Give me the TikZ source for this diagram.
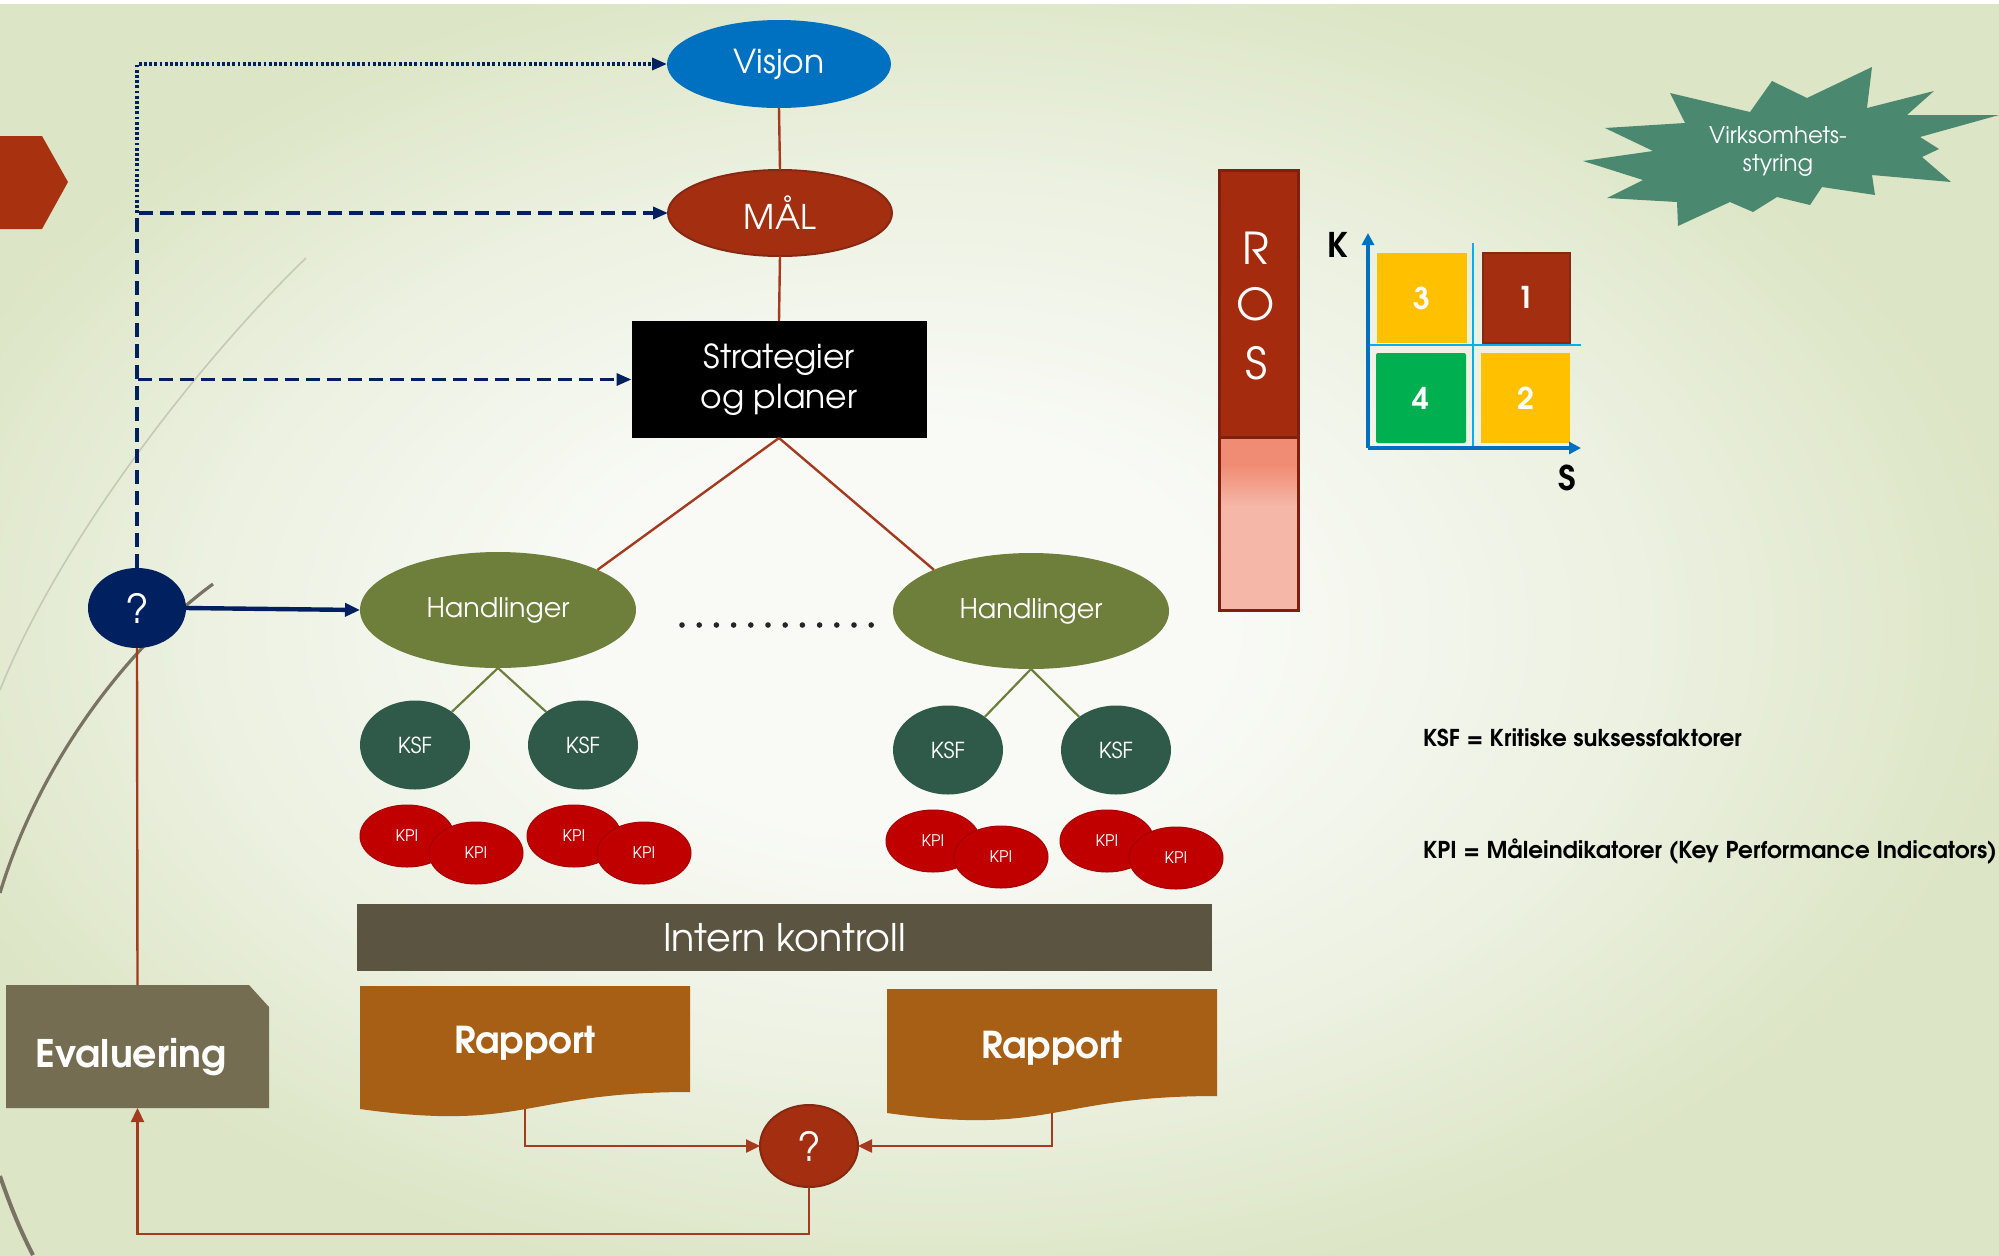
\documentclass[tikz,border=0pt]{standalone}
\usepackage{fontspec}
\setmainfont{TeX Gyre Adventor}
\usetikzlibrary{shapes.geometric,arrows.meta}
\definecolor{bgin}{HTML}{F9FAF6}
\definecolor{bgmid}{HTML}{ECF1E1}
\definecolor{bgout}{HTML}{DCE5C5}
\definecolor{visblue}{HTML}{0070C0}
\definecolor{maroon}{HTML}{A32F10}
\definecolor{maroonD}{HTML}{872812}
\definecolor{hand}{HTML}{6E7F3C}
\definecolor{ksf}{HTML}{2F5A49}
\definecolor{kpi}{HTML}{C00000}
\definecolor{kpiD}{HTML}{A80000}
\definecolor{ikc}{HTML}{5A5441}
\definecolor{rap}{HTML}{A65F15}
\definecolor{evalc}{HTML}{746D51}
\definecolor{navy}{HTML}{002060}
\definecolor{rosred}{HTML}{A52B0E}
\definecolor{rosD}{HTML}{7E2010}
\definecolor{salmon}{HTML}{F08C74}
\definecolor{pinkL}{HTML}{F4B7A8}
\definecolor{burst}{HTML}{4B8870}
\definecolor{yel}{HTML}{FFC000}
\definecolor{grn}{HTML}{00B050}
\definecolor{axisc}{HTML}{0070C0}
\definecolor{crossc}{HTML}{00B0F0}
\definecolor{connc}{HTML}{A43A1E}
\definecolor{chev}{HTML}{A8320F}
\definecolor{decothick}{HTML}{7A7262}
\definecolor{decothin}{HTML}{C5C9B5}
\pgfdeclareradialshading{bgshade}{\pgfpoint{-3bp}{0bp}}{color(0bp)=(bgin);color(8bp)=(bgin);color(18bp)=(bgmid);color(27bp)=(bgout);color(50bp)=(bgout)}
\pgfdeclareverticalshading{rosshade}{100bp}{color(0bp)=(pinkL);color(55bp)=(pinkL);color(67bp)=(salmon);color(100bp)=(salmon)}
\begin{document}
\begin{tikzpicture}[x=0.5pt,y=-0.5pt,
  every node/.style={inner sep=0pt,outer sep=0pt,text=white},
  conn/.style={draw=connc,line width=1.2pt},
  redarrow/.style={conn,-{Triangle[length=7pt,width=6.5pt]}},
  olive/.style={draw=hand,line width=1.1pt},
  navyarr/.style={draw=navy,line width=2.2pt,-{Triangle[length=7.5pt,width=6.5pt]}},
  navydash/.style={draw=navy,line width=1.7pt,dash pattern=on 7pt off 3.5pt,-{Triangle[length=7.5pt,width=6pt]}},
  navydot/.style={draw=navy,line width=1.7pt,dash pattern=on 1.4pt off 1.2pt,-{Triangle[length=7.5pt,width=6pt]}},
  axisline/.style={draw=axisc,line width=1.6pt,-{Triangle[length=6pt,width=6pt]}},
  crossline/.style={draw=crossc,line width=1.1pt},
  oval/.style={ellipse},
  kpinode/.style={ellipse,fill=kpi,draw=kpiD,line width=0.5pt,minimum width=47pt,minimum height=31pt,font=\fontsize{8}{9}\selectfont},
  ksfnode/.style={ellipse,fill=ksf,minimum width=55pt,minimum height=44.5pt,font=\fontsize{11}{13}\selectfont},
  handnode/.style={ellipse,fill=hand,minimum width=138pt,minimum height=58pt,font=\fontsize{13.5}{16}\selectfont},
  sqnode/.style={minimum width=45pt,minimum height=45pt,font=\bfseries\fontsize{15}{17}\selectfont},
  rostxt/.style={font=\fontsize{22}{24}\selectfont},
  raptxt/.style={font=\bfseries\fontsize{18.5}{20}\selectfont},
  qtxt/.style={font=\fontsize{20}{22}\selectfont},
  legend/.style={anchor=west,text=black,font=\bfseries\fontsize{11.6}{13}\selectfont}
]
\useasboundingbox (0,0) rectangle (1999,1255);
% background
\shade[shading=bgshade] (0,0) rectangle (1999,1255);
\fill[white] (0,0) rectangle (1999,4);
% decorative theme curves
\draw[decothin,line width=0.8pt] (306,258) .. controls (200,360) and (60,540) .. (0,690);
\draw[decothick,line width=1.6pt] (213,584) .. controls (130,645) and (40,760) .. (0,893);
\draw[decothick,line width=2pt] (0,1176) .. controls (10,1205) and (20,1230) .. (33,1255);
\fill[chev] (0,136) -- (42,136) -- (68,182) -- (42,229) -- (0,229) -- cycle;

% main column
\node[oval,fill=visblue,minimum width=112pt,minimum height=44pt,font=\fontsize{16.5}{19}\selectfont] (visjon) at (779,64) {Visjon};
\node[oval,fill=maroon,draw=maroonD,line width=1pt,minimum width=112pt,minimum height=43pt,font=\fontsize{17}{19}\selectfont] (mal) at (780,213) {MÅL};
\node[fill=black,minimum width=147.5pt,minimum height=58.5pt,align=center,font=\fontsize{16.5}{20}\selectfont] (strat) at (779,379.5) {Strategier\\og planer};
\node[handnode] (h1) at (498,610) {Handlinger};
\node[handnode] (h2) at (1031,611) {Handlinger};
\foreach \i in {0,...,11} \fill[black!85] (682+\i*17.2,625) circle (1.4pt);

\node[ksfnode] (k1) at (415,745) {KSF};
\node[ksfnode] (k2) at (583,745) {KSF};
\node[ksfnode] (k3) at (948,750) {KSF};
\node[ksfnode] (k4) at (1116,750) {KSF};

\node[kpinode] (p1a) at (407,836) {KPI};
\node[kpinode] (p1b) at (476,853) {KPI};
\node[kpinode] (p2a) at (574,836) {KPI};
\node[kpinode] (p2b) at (644,853) {KPI};
\node[kpinode] (p3a) at (933,841) {KPI};
\node[kpinode] (p3b) at (1001,857) {KPI};
\node[kpinode] (p4a) at (1107,841) {KPI};
\node[kpinode] (p4b) at (1176,858) {KPI};

\node[fill=ikc,minimum width=427.5pt,minimum height=33.5pt,font=\fontsize{19}{21}\selectfont] (ik) at (784.5,937.5) {Intern kontroll};

% report documents
\fill[rap] (360,986) -- (690,986) -- (690,1092) .. controls (525,1092) and (525,1132) .. (360,1109) -- cycle;
\fill[rap] (887,989) -- (1217,989) -- (1217,1096) .. controls (1052,1096) and (1052,1136) .. (887,1113) -- cycle;
\node[minimum width=165pt,minimum height=61.5pt] (rap1) at (525,1047.5) {};
\node[minimum width=165pt,minimum height=62pt] (rap2) at (1052,1051) {};
\node[raptxt] (rap1t) at (525,1043) {Rapport};
\node[raptxt] (rap2t) at (1052,1048) {Rapport};

\node[oval,fill=maroon,draw=maroonD,line width=1pt,minimum width=49pt,minimum height=41pt,qtxt] (q2) at (809,1146) {?};
\node[oval,fill=navy,minimum width=49pt,minimum height=40pt,qtxt] (q1) at (137,608) {?};

% evaluering
\fill[evalc] (6,985) -- (249,985) -- (269,1007) -- (269,1108) -- (6,1108) -- cycle;
\node[minimum width=131.5pt,minimum height=61.5pt] (eval) at (137.5,1046.5) {};
\node[font=\bfseries\fontsize{19}{21}\selectfont] (evalt) at (131,1057) {Evaluering};

% connectors main
\draw[conn] (visjon.south) -- (mal.north);
\draw[conn] (mal.south) -- (strat.north);
\draw[conn] (strat.south) -- (h1.22);
\draw[conn] (strat.south) -- (h2.157);
\draw[olive] (h1.south) -- (k1.42);
\draw[olive] (h1.south) -- (k2.138);
\draw[olive] (h2.south) -- (k3.42);
\draw[olive] (h2.south) -- (k4.138);
\draw[redarrow] (rap1.south) |- (q2.west);
\draw[redarrow] (rap2.south) |- (q2.east);
\draw[redarrow] (q2.south) -- ++(0,47) -| (eval.south);
\draw[conn] (eval.north) -- (q1.south);
\draw[navyarr] (q1.east) -- (h1.west);
\coordinate (vm) at (q1.north |- mal.west);
\draw[navydot] (vm) |- (visjon.west);
\draw[navydash] (q1.north) |- (mal.west);
\draw[navydash] (q1.north) |- (strat.west);

% ROS bar
\node[fill=rosred,draw=rosD,line width=1.5pt,minimum width=39.5pt,minimum height=133.5pt] (rostop) at (1259,303.5) {};
\node[shade,shading=rosshade,draw=rosD,line width=1.5pt,minimum width=39.5pt,minimum height=86.5pt] (rosbot) at (1259,523.5) {};
\node[rostxt] (rosR) at (1256,248) {R};
\node[rostxt] (rosO) at (1256,304) {O};
\node[rostxt] (rosS) at (1256,363) {S};

% matrix
\coordinate (cv1) at (1473,243);
\coordinate (cv2) at (1473,448);
\coordinate (ch1) at (1368,345);
\coordinate (ch2) at (1581,345);
\draw[crossline] (cv1) -- (cv2);
\draw[crossline] (ch1) -- (ch2);
\node[sqnode,fill=yel] (s3) at (1422,298) {3};
\node[sqnode,fill=maroon,draw=maroonD,line width=1pt,minimum width=43.5pt] (s1) at (1526,297.5) {1};
\node[sqnode,fill=grn,rounded corners=1pt] (s4) at (1421,398) {4};
\node[sqnode,fill=yel,minimum width=44.5pt] (s2) at (1525.5,398) {2};
\coordinate (mo) at (1368,448);
\coordinate (ky) at (1368,233);
\coordinate (sx) at (1581,448);
\draw[axisline] (mo) -- (ky);
\draw[axisline] (mo) -- (sx);
\node[text=black,font=\bfseries\fontsize{17}{19}\selectfont] (klab) at (1338,245) {K};
\node[text=black,font=\bfseries\fontsize{17}{19}\selectfont] (slab) at (1567,478) {S};

% starburst
\fill[burst] (1583,161) -- (1653,151) -- (1605,128) -- (1685,123) -- (1670,93) -- (1750,112) -- (1772,81) -- (1807,98) -- (1872,67) -- (1867,108) -- (1934,91) -- (1907,115) -- (1999,115) -- (1920,137) -- (1939,149) -- (1922,157) -- (1951,182) -- (1872,175) -- (1875,195) -- (1822,187) -- (1810,205) -- (1777,197) -- (1753,212) -- (1730,202) -- (1678,226) -- (1677,202) -- (1607,198) -- (1643,180) -- cycle;
\node[align=center,font=\fontsize{11.5}{14}\selectfont] (burstt) at (1778,151) {Virksomhets-\\styring};

% legend
\node[legend] (lg1) at (1423,738) {KSF = Kritiske suksessfaktorer};
\node[legend] (lg2) at (1423,852) {KPI = Måleindikatorer (Key Performance Indicators)};
\end{tikzpicture}
\end{document}
